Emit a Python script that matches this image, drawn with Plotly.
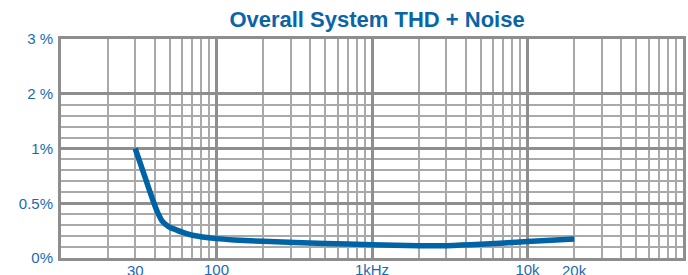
import math
import plotly.graph_objects as go

# Data
freq_hz = [30, 35, 38.8, 41.8, 45, 49.2, 54.6, 61.4, 70, 100, 130, 200, 500, 1000, 2000, 3000, 5000, 10000, 20000]
thd_pct = [1.0, 0.722, 0.537, 0.417, 0.333, 0.287, 0.259, 0.231, 0.208, 0.177, 0.165, 0.152, 0.133, 0.122, 0.113, 0.113, 0.125, 0.151, 0.173]

x_major_vals = [100, 1000, 10000]
x_major_text = ["100", "1kHz", "10k"]
x_extra_vals = [30, 20000]
x_extra_text = ["30", "20k"]
y_label_vals = [0, 0.5, 1, 2, 3]
y_label_text = ["0%", "0.5%", "1%", "2 %", "3 %"]

x_minor_grid = [m * d for d in (10, 100, 1000, 10000) for m in range(2, 10)]
y_minor_grid_pct = [0.1, 0.2, 0.3, 0.4, 0.6, 0.7, 0.8, 0.9, 1.2, 1.4, 1.6, 1.8]


def to_axis(v):
    # piecewise scale of the printed chart: 0-1 % takes half the height, 1-3 % the other half
    return 2 * v if v <= 1 else v + 1


BLUE = "#0063a6"
TEXT_BLUE = "#1c6aae"
GRID = "#a9a9a9"
GRID_MAJOR = "#8e8e8e"
FONT = "Liberation Sans, Arial, sans-serif"
TICKFONT = dict(family=FONT, size=15, color=TEXT_BLUE)

fig = go.Figure()
fig.add_trace(go.Scatter(
    x=freq_hz, y=[to_axis(v) for v in thd_pct],
    mode="lines", line=dict(color=BLUE, width=5.5, shape="spline", smoothing=0.7),
    hoverinfo="skip", showlegend=False,
))

for v, t in zip(x_extra_vals, x_extra_text):
    fig.add_annotation(x=math.log10(v), xref="x", y=0, yref="paper", text=t,
                       showarrow=False, yanchor="top", xanchor="center", yshift=-2,
                       font=TICKFONT)

fig.update_layout(
    width=688, height=275,
    margin=dict(l=61, r=5, t=39, b=17, autoexpand=False),
    paper_bgcolor="white", plot_bgcolor="white",
    title=dict(text="<b>Overall System THD + Noise</b>", x=0.548, xanchor="center",
               y=0.93, yanchor="middle", xref="container", yref="container",
               font=dict(family=FONT, size=22, color="#0a64a8")),
    xaxis=dict(
        type="log", range=[1, 5], ticks="", ticklen=0, automargin=False,
        tickvals=x_major_vals, ticktext=x_major_text, tickfont=TICKFONT, ticklabelstandoff=-4,
        showgrid=True, gridcolor=GRID_MAJOR, gridwidth=3,
        minor=dict(tickvals=x_minor_grid, showgrid=True, gridcolor=GRID, gridwidth=2, ticks=""),
        showline=True, mirror=True, linecolor=GRID_MAJOR, linewidth=3, zeroline=False,
    ),
    yaxis=dict(
        range=[0, 4], tickvals=[to_axis(v) for v in y_label_vals], ticktext=y_label_text,
        showgrid=True, gridcolor=GRID_MAJOR, gridwidth=3, ticks="", ticklen=0, automargin=False,
        minor=dict(tickvals=[to_axis(v) for v in y_minor_grid_pct], showgrid=True,
                   gridcolor=GRID, gridwidth=2, ticks=""),
        showline=True, mirror=True, linecolor=GRID_MAJOR, linewidth=3, zeroline=False,
        tickfont=TICKFONT, ticklabelstandoff=2,
    ),
)

fig.write_html("out.html", config={"displayModeBar": False},
               post_script="document.body.style.margin='0px';")
